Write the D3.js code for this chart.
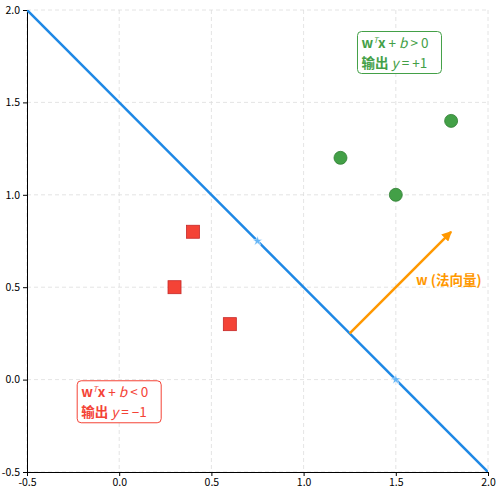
<!DOCTYPE html>
<html><head><meta charset="utf-8">
<script src="https://cdn.jsdelivr.net/npm/d3@7"></script>
<style>body{margin:0;background:#fff}text{font-family:"Noto Sans CJK SC","DejaVu Sans",sans-serif;white-space:pre}</style>
</head><body><svg id="c" width="498" height="495"></svg>
<script>
const ticks = [-0.5, 0, 0.5, 1, 1.5, 2];
const posPoints = [[1.2, 1.2], [1.5, 1.0], [1.8, 1.4]];
const negPoints = [[0.4, 0.8], [0.3, 0.5], [0.6, 0.3]];
const boundary = [[-0.5, 2.0], [2.0, -0.5]];
const stars = [[0.75, 0.75], [1.5, 0.0]];
const normal = [[1.25, 0.25], [1.8, 0.8]];

const svg = d3.select("#c");
const m = {l: 27, r: 488, t: 10, b: 472};
const x = d3.scaleLinear().domain([-0.5, 2]).range([m.l, m.r]);
const y = d3.scaleLinear().domain([-0.5, 2]).range([m.b, m.t]);

// grid
svg.append("g").selectAll("line").data(ticks).enter().append("line")
  .attr("x1", d => x(d)).attr("x2", d => x(d)).attr("y1", m.t).attr("y2", m.b)
  .attr("stroke", "#ddd").attr("stroke-dasharray", "4,3").attr("stroke-width", 0.8);
svg.append("g").selectAll("line").data(ticks).enter().append("line")
  .attr("y1", d => y(d)).attr("y2", d => y(d)).attr("x1", m.l).attr("x2", m.r)
  .attr("stroke", "#ddd").attr("stroke-dasharray", "4,3").attr("stroke-width", 0.8);

const fmt = d => d.toFixed(1);
svg.append("g").attr("transform", `translate(0,${m.b})`)
  .call(d3.axisBottom(x).tickValues(ticks).tickFormat(fmt).tickSize(4))
  .call(g => g.selectAll("text").attr("font-size", 10.5).attr("fill", "#000"));
svg.append("g").attr("transform", `translate(${m.l},0)`)
  .call(d3.axisLeft(y).tickValues(ticks).tickFormat(fmt).tickSize(4))
  .call(g => g.selectAll("text").attr("font-size", 10.5).attr("fill", "#000"));
svg.selectAll(".domain").attr("stroke", "#000");

// clip
svg.append("clipPath").attr("id", "clip").append("rect")
  .attr("x", m.l).attr("y", m.t).attr("width", m.r - m.l).attr("height", m.b - m.t);
const plot = svg.append("g").attr("clip-path", "url(#clip)");

const line = d3.line().x(d => x(d[0])).y(d => y(d[1]));
plot.append("path").datum(boundary).attr("d", line)
  .attr("stroke", "#1e88e5").attr("stroke-width", 2.5).attr("fill", "none");

plot.selectAll(".star").data(stars).enter().append("path")
  .attr("d", d3.symbol(d3.symbolStar, 30))
  .attr("transform", d => `translate(${x(d[0])},${y(d[1])})`)
  .attr("fill", "#64b5f6").attr("stroke", "#fff").attr("stroke-width", 0.5);

svg.selectAll(".pos").data(posPoints).enter().append("circle")
  .attr("cx", d => x(d[0])).attr("cy", d => y(d[1])).attr("r", 6.5)
  .attr("fill", "#43a047").attr("stroke", "#2e7d32").attr("stroke-width", 0.8);
svg.selectAll(".neg").data(negPoints).enter().append("rect")
  .attr("x", d => x(d[0]) - 6.5).attr("y", d => y(d[1]) - 6.5)
  .attr("width", 13).attr("height", 13)
  .attr("fill", "#f44336").attr("stroke", "#c62828").attr("stroke-width", 0.8);

// normal arrow
svg.append("defs").append("marker").attr("id", "ah").attr("viewBox", "0 0 10 10")
  .attr("refX", 9).attr("refY", 5).attr("markerWidth", 4).attr("markerHeight", 4)
  .attr("orient", "auto").append("path").attr("d", "M0,0L10,5L0,10z").attr("fill", "#ff9800");
svg.append("path").datum(normal).attr("d", line)
  .attr("stroke", "#ff9800").attr("stroke-width", 2.5).attr("marker-end", "url(#ah)");
svg.append("text").attr("x", x(1.61)).attr("y", y(0.51)).attr("font-size", 13.5)
  .attr("font-weight", "bold").attr("fill", "#ff9800").text("w (法向量)");

function box(cx, cy, color, rel, out) {
  const g = svg.append("g");
  g.append("rect").attr("x", cx - 42).attr("y", cy - 21).attr("width", 84).attr("height", 42)
    .attr("rx", 4).attr("fill", "#fff").attr("stroke", color).attr("stroke-width", 1);
  const t1 = g.append("text").attr("x", cx - 38).attr("y", cy - 5).attr("font-size", 13.5).attr("fill", color);
  t1.append("tspan").attr("font-weight", "bold").text("w");
  t1.append("tspan").attr("font-size", 8).attr("dy", -5).attr("font-style", "italic").text("T");
  t1.append("tspan").attr("font-weight", "bold").attr("dy", 5).text("x");
  t1.append("tspan").text(" + ");
  t1.append("tspan").attr("font-style", "italic").text("b");
  t1.append("tspan").text(rel);
  const t2 = g.append("text").attr("x", cx - 38).attr("y", cy + 15).attr("font-size", 13.5).attr("fill", color);
  t2.append("tspan").attr("font-weight", "bold").text("输出 ");
  t2.append("tspan").attr("font-style", "italic").text("y");
  t2.append("tspan").text(out);
}
box(x(1.52), y(1.77), "#43a047", " > 0", " = +1");
box(x(0.0), y(-0.12), "#f44336", " < 0", " = −1");
</script></body></html>
